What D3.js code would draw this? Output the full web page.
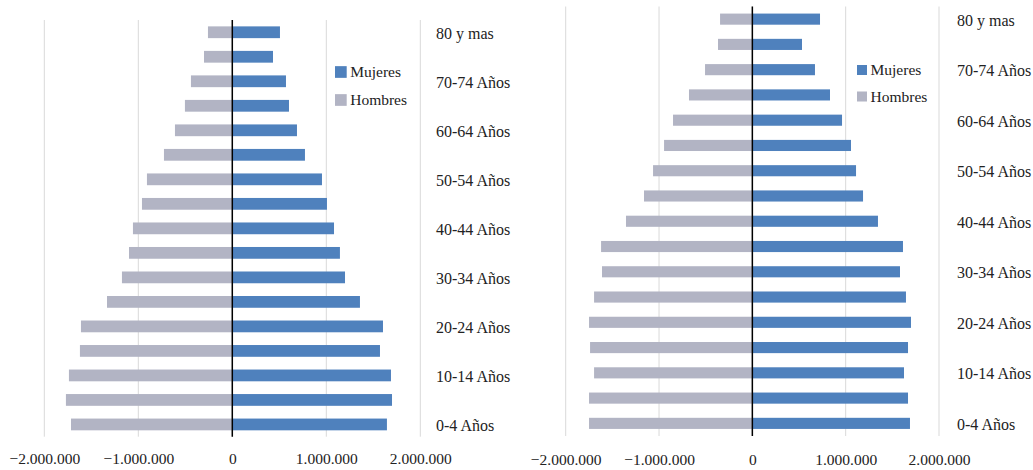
<!DOCTYPE html>
<html>
<head>
<meta charset="utf-8">
<script src="https://cdn.jsdelivr.net/npm/d3@7"></script>
<style>
  html, body { margin: 0; padding: 0; background: #fff; }
  svg { display: block; font-family: "Liberation Serif", "Times New Roman", serif; }
</style>
</head>
<body>
<svg id="chart" width="1033" height="470"></svg>
<script>
// Age groups, oldest first (top of the pyramid)
const ageGroups = ["80 y mas", "75-79 Años", "70-74 Años", "65-69 Años", "60-64 Años",
  "55-59 Años", "50-54 Años", "45-49 Años", "40-44 Años", "35-39 Años", "30-34 Años",
  "25-29 Años", "20-24 Años", "15-19 Años", "10-14 Años", "5-9 Años", "0-4 Años"];

// Only every other group carries a label on the axis
const shownLabels = ["80 y mas", "70-74 Años", "60-64 Años", "50-54 Años", "40-44 Años",
  "30-34 Años", "20-24 Años", "10-14 Años", "0-4 Años"];

const xTicks = [-2000000, -1000000, 0, 1000000, 2000000];
const seriesNames = ["Mujeres", "Hombres"];

// First pyramid
const mujeresA = [507000, 433000, 571000, 603000, 688000, 773000, 954000, 1007000, 1082000,
  1145000, 1199000, 1358000, 1603000, 1571000, 1688000, 1699000, 1645000];
const hombresA = [259000, 301000, 440000, 504000, 610000, 727000, 908000, 961000, 1057000,
  1099000, 1174000, 1333000, 1610000, 1621000, 1738000, 1770000, 1716000];

// Second pyramid
const mujeresB = [725000, 532000, 671000, 832000, 961000, 1057000, 1111000, 1186000, 1346000,
  1614000, 1582000, 1646000, 1700000, 1668000, 1625000, 1668000, 1689000];
const hombresB = [346000, 368000, 507000, 679000, 850000, 946000, 1064000, 1161000, 1354000,
  1621000, 1611000, 1696000, 1750000, 1739000, 1696000, 1750000, 1750000];

const colors = { Mujeres: "#4F81BD", Hombres: "#B2B4C4" };

const svg = d3.select("#chart");

// thousands separator is a dot
const fmt = d3.formatLocale({ decimal: ",", thousands: ".", grouping: [3], currency: ["", ""] }).format(",d");

function pyramid(cfg) {
  const g = svg.append("g");
  const x = d3.scaleLinear().domain([-2000000, 2000000]).range([cfg.left, cfg.right]);
  const y = d3.scaleBand().domain(ageGroups).range([cfg.top, cfg.bottom])
    .paddingInner(cfg.pad).paddingOuter(cfg.pad / 2);

  // vertical gridlines
  g.append("g").selectAll("line").data(xTicks).join("line")
    .attr("x1", d => x(d)).attr("x2", d => x(d))
    .attr("y1", cfg.top).attr("y2", cfg.bottom)
    .attr("stroke", "#d9d9d9").attr("stroke-width", 1);

  const rows = ageGroups.map((a, i) => ({ age: a, m: cfg.mujeres[i], h: cfg.hombres[i] }));

  // women to the right
  g.append("g").selectAll("rect").data(rows).join("rect")
    .attr("x", x(0)).attr("y", d => y(d.age))
    .attr("width", d => x(d.m) - x(0)).attr("height", y.bandwidth())
    .attr("fill", colors.Mujeres);

  // men to the left
  g.append("g").selectAll("rect").data(rows).join("rect")
    .attr("x", d => x(-d.h)).attr("y", d => y(d.age))
    .attr("width", d => x(0) - x(-d.h)).attr("height", y.bandwidth())
    .attr("fill", colors.Hombres);

  // zero line
  g.append("line")
    .attr("x1", x(0)).attr("x2", x(0)).attr("y1", cfg.top).attr("y2", cfg.bottom)
    .attr("stroke", "#000").attr("stroke-width", 1.5);

  // value axis labels
  const xAxis = d3.axisBottom(x).tickValues(xTicks).tickFormat(fmt).tickSize(0).tickPadding(0);
  const ax = g.append("g").attr("transform", `translate(0,${cfg.tickY})`).call(xAxis);
  ax.select(".domain").remove();
  ax.selectAll("text").attr("font-size", 15.5).attr("fill", "#222")
    .attr("font-family", "Liberation Serif, serif").attr("dy", "0");

  // age labels at the right
  const yAxis = d3.axisRight(y).tickValues(shownLabels).tickSize(0).tickPadding(0);
  const ay = g.append("g").attr("transform", `translate(${cfg.labelX},0)`).call(yAxis);
  ay.select(".domain").remove();
  ay.selectAll("text").attr("font-size", 16).attr("fill", "#222")
    .attr("font-family", "Liberation Serif, serif").attr("dy", "0.4em");

  // legend
  const lg = g.append("g").selectAll("g").data(seriesNames).join("g")
    .attr("transform", (d, i) => `translate(${cfg.legendX},${cfg.legendY + i * cfg.legendGap})`);
  lg.append("rect").attr("x", 0).attr("y", -cfg.sw / 2).attr("width", cfg.sw).attr("height", cfg.sw)
    .attr("fill", d => colors[d]);
  lg.append("text").attr("x", cfg.sw + 3.5).attr("y", 0).attr("dy", "0.35em")
    .attr("font-size", 15.5).attr("fill", "#222").text(d => d);
}

pyramid({
  mujeres: mujeresA, hombres: hombresA,
  left: 44.3, right: 420.3, top: 20, bottom: 436.7, pad: 0.52,
  tickY: 464, labelX: 436,
  legendX: 335, legendY: 72, legendGap: 28, sw: 11.7
});

pyramid({
  mujeres: mujeresB, hombres: hombresB,
  left: 565.7, right: 939, top: 6.5, bottom: 436, pad: 0.56,
  tickY: 465, labelX: 957,
  legendX: 857, legendY: 70, legendGap: 26.5, sw: 10
});
</script>
</body>
</html>
